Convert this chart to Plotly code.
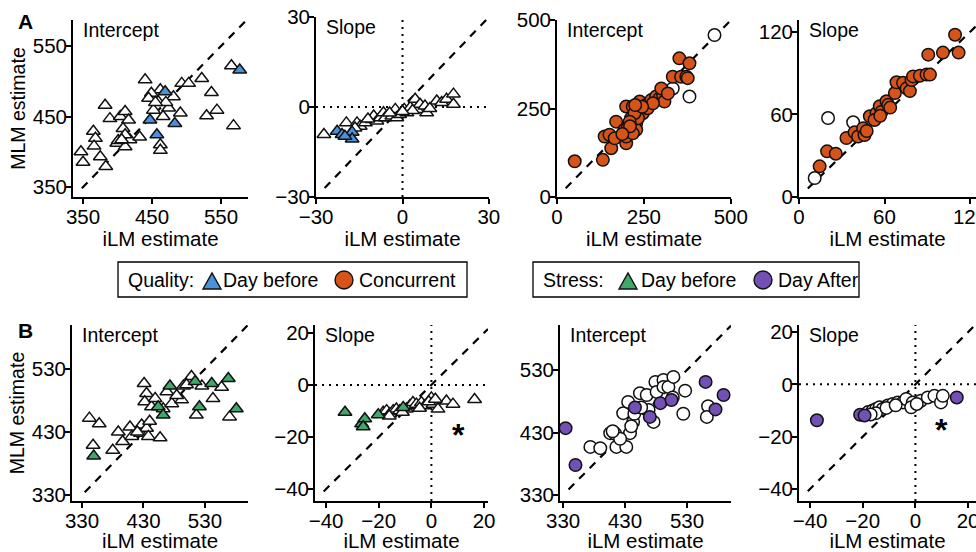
import plotly.graph_objects as go

# ---------------- data ----------------
# Row A, Quality; triangles = "Day before" (blue = significant), circles = "Concurrent" (orange = significant)
a1_ns_x = [347, 350, 365, 368, 366, 375, 383, 382, 389, 404, 399, 411, 401, 418, 432, 411, 416, 408, 411, 406,
           440, 462, 449, 445, 459, 481, 493, 503, 522, 536, 565, 544, 529, 568, 452, 474, 491, 466, 462, 462, 470, 455]
a1_ns_y = [400, 385, 429, 419, 408, 393, 379, 466, 447, 450, 412, 407, 416, 417, 421, 457, 445, 433, 424, 417,
           502, 488, 483, 476, 471, 478, 497, 497, 504, 484, 522, 459, 451, 437, 459, 462, 455, 450, 410, 402, 470, 470]
a1_sig_x = [469, 447, 483, 457, 577]
a1_sig_y = [485, 445, 440, 424, 516]

a2_ns_x = [-27.3, -19.5, -15.8, -14.7, -12.9, -10.6, -10, -8.9, -7.7, -6.6, -6, -3.7, -2.5, -2, -1, 0.6, 1.5, 2.7,
           4.4, 5, 6.1, 7.8, 8.4, 11.9, 13.6, 15.3, 17.7, 17.7, -4.5, 3.5, 9.5, -12, -16.5, 0]
a2_ns_y = [-9.2, -5.3, -5.3, -6.4, -5.3, -4.2, -3, -4.7, -3.6, -1.9, -3.6, -3, -0.8, -3.6, -2.5, -0.8, -1.9, -0.2,
           2.6, -0.8, 0.9, 0.3, -1.9, 2, 1.5, 2.6, 4.3, 0.9, -2, -1.2, -0.5, -4, -7, -1.5]
a2_sig_x = [-22.7, -21, -17.5, -17.5, -20]
a2_sig_y = [-8.1, -9.2, -8.4, -10.7, -9.8]

a3_ns_x = [333, 381, 453]
a3_ns_y = [307, 284, 458]
a3_sig_x = [51, 132, 137, 151, 156, 166, 170, 194, 199, 199, 204, 213, 199, 218, 228, 228, 238, 238, 247, 257,
            271, 285, 295, 305, 300, 309, 319, 333, 352, 357, 372, 376, 381, 233, 261, 276, 223, 209, 218, 210,
            245, 188, 225]
a3_sig_y = [101, 105, 171, 176, 138, 166, 213, 190, 152, 171, 199, 223, 256, 256, 209, 190, 270, 242, 237, 260,
            274, 284, 279, 289, 307, 270, 293, 340, 392, 340, 340, 336, 378, 223, 251, 265, 237, 213, 180, 200,
            255, 178, 260]

a4_ns_x = [11, 20.4, 38]
a4_ns_y = [13.8, 57.4, 54.3]
a4_sig_x = [14.5, 19.7, 25.8, 33.3, 39, 41.5, 45, 46, 49.7, 54.4, 53, 56.7, 58, 61.4, 62.6, 67.3, 68.4, 73,
            75.5, 77.8, 79, 80, 84.8, 89.5, 90.7, 91.9, 101, 109.5, 112, 47.5, 57, 64]
a4_sig_y = [22.3, 33.2, 31.5, 42.9, 47, 44, 50, 45, 58.7, 61, 56, 66, 62, 69.6, 67, 75.6, 83.4, 83,
            79, 77, 85, 87.7, 88.2, 89, 103.5, 89, 105, 118, 105, 48, 59, 65]

# Row B, Stress; triangles = "Day before" (green = significant), circles = "Day After" (purple = significant)
b1_ns_x = [342, 358, 348, 380, 389, 396, 408, 411, 425, 427, 435, 438, 457, 431, 435, 432, 443, 449, 462, 468,
           476, 492, 495, 508, 525, 516, 543, 557, 570, 484, 420, 440, 500]
b1_ns_y = [452, 443, 409, 401, 430, 415, 438, 423, 428, 441, 436, 423, 421, 507, 491, 478, 470, 483, 467, 494,
           475, 481, 503, 518, 503, 457, 483, 501, 454, 488, 430, 447, 505]
b1_sig_x = [349, 454, 462, 473, 514, 521, 541, 568, 581]
b1_sig_y = [392, 470, 457, 503, 510, 470, 507, 515, 467]

b2_ns_x = [-18.3, -17, -15.8, -14.5, -13.3, -12, -9.5, -8.2, -7, -5.7, -3.8, -2.5, 0, 0.6, 2.5, 5.7, 8.2, 16.4,
           -16, -11, -4.5, -1, 1.5]
b2_ns_y = [-10.5, -9.9, -11.1, -9.9, -9.3, -9.9, -9.3, -8, -6.8, -7.4, -6.8, -8, -5, -7.4, -9.3, -6.2, -7.4, -5.6,
           -12, -10.5, -9, -6.5, -5.5]
b2_sig_x = [-32.8, -26.5, -25.3, -25.9, -20.2, -10.7]
b2_sig_y = [-10.5, -14.9, -13, -16.1, -11.5, -8.7]

b3_ns_x = [374, 390, 406, 411, 416, 432, 438, 443, 427, 435, 454, 465, 468, 476, 479, 481, 492, 492, 500, 508,
           507, 527, 524, 564, 562, 414, 422, 445, 456, 440, 410]
b3_ns_y = [407, 405, 429, 431, 407, 407, 429, 447, 461, 479, 493, 490, 466, 447, 511, 495, 514, 503, 503, 519,
           486, 497, 460, 472, 455, 428, 420, 460, 470, 440, 432]
b3_sig_x = [334, 350, 446, 470, 487, 505, 560, 576, 589]
b3_sig_y = [437, 378, 470, 455, 477, 482, 511, 467, 490]

b4_ns_x = [-18, -16.2, -14.9, -13.6, -12.4, -10.5, -8.6, -6.7, -4.8, -3.5, -1, -1.6, 2.1, 4.7, 7.2, 9.7, 10.4,
           -15, -11, -7.5, 0.5, -17]
b4_ns_y = [-10.6, -10, -9.4, -8.75, -9.4, -8.1, -7.5, -6.9, -6.9, -5.6, -6.9, -8.75, -6.25, -5, -4.4, -6.9, -4.4,
           -11, -9, -8, -7.5, -11.5]
b4_sig_x = [-37.4, -21, -19.3, 15.7]
b4_sig_y = [-13.75, -11.6, -11.9, -5]

# tick values
ticks_a_int = [350, 450, 550]
ticks_a_slope = [-30, 0, 30]
ticks_a3 = [0, 250, 500]
ticks_a4 = [0, 60, 120]
ticks_b_int = [330, 430, 530]
ticks_b_slope = [-40, -20, 0, 20]

# legend / labels text
panel_titles = ["Intercept", "Slope", "Intercept", "Slope", "Intercept", "Slope", "Intercept", "Slope"]
legend_quality = ["Quality:", "Day before", "Concurrent"]
legend_stress = ["Stress:", "Day before", "Day After"]

# ---------------- styling ----------------
W, H = 976, 552
FONT = "Liberation Sans, Arial, Helvetica, sans-serif"
FS = 19.5      # panel titles / legend
FS_TICK = 20.5
FS_XT = 20.5
FS_YT = 19.5
BLUE = "#4A90DA"
ORANGE = "#D6541A"
GREEN = "#3FA96A"
PURPLE = "#7350B6"


def px(p):
    return p / W


def py(p):
    return 1 - p / H


panels = [
    dict(data=(a1_ns_x, a1_ns_y, a1_sig_x, a1_sig_y), xd=(73, 248), yd=(20, 197), xr=(335.5, 589), yr=(335.8, 586.9),
         xt=ticks_a_int, yt=ticks_a_int, sym="triangle-up", col=BLUE, zero=False, ytitle=True, star=None),
    dict(data=(a2_ns_x, a2_ns_y, a2_sig_x, a2_sig_y), xd=(316, 489), yd=(17, 197), xr=(-30.05, 30.05), yr=(-30.05, 30.05),
         xt=ticks_a_slope, yt=ticks_a_slope, sym="triangle-up", col=BLUE, zero=True, ytitle=False, star=None),
    dict(data=(a3_ns_x, a3_ns_y, a3_sig_x, a3_sig_y), xd=(557, 731), yd=(20, 197), xr=(0, 500.5), yr=(0, 500.5),
         xt=ticks_a3, yt=ticks_a3, sym="circle", col=ORANGE, zero=False, ytitle=False, star=None),
    dict(data=(a4_ns_x, a4_ns_y, a4_sig_x, a4_sig_y), xd=(799, 976), yd=(20, 197), xr=(0, 124.2), yr=(0, 128.7),
         xt=ticks_a4, yt=ticks_a4, sym="circle", col=ORANGE, zero=False, ytitle=False, star=None),
    dict(data=(b1_ns_x, b1_ns_y, b1_sig_x, b1_sig_y), xd=(72, 248), yd=(325, 501), xr=(313.7, 600), yr=(320.5, 599.8),
         xt=ticks_b_int, yt=ticks_b_int, sym="triangle-up", col=GREEN, zero=False, ytitle=True, star=None),
    dict(data=(b2_ns_x, b2_ns_y, b2_sig_x, b2_sig_y), xd=(315, 488), yd=(325, 501), xr=(-44.2, 21.5), yr=(-44.6, 23),
         xt=ticks_b_slope, yt=ticks_b_slope, sym="triangle-up", col=GREEN, zero=True, ytitle=False, star=(10.2, -18.5)),
    dict(data=(b3_ns_x, b3_ns_y, b3_sig_x, b3_sig_y), xd=(560, 731), yd=(325, 501), xr=(325, 601), yr=(320.4, 602),
         xt=ticks_b_int, yt=ticks_b_int, sym="circle", col=PURPLE, zero=False, ytitle=False, star=None),
    dict(data=(b4_ns_x, b4_ns_y, b4_sig_x, b4_sig_y), xd=(799, 976), yd=(325, 501), xr=(-44.2, 23), yr=(-44.6, 22.7),
         xt=ticks_b_slope, yt=ticks_b_slope, sym="circle", col=PURPLE, zero=True, ytitle=False, star=(9.9, -16.8)),
]

fig = go.Figure()
layout = dict(
    template="none",
    width=W, height=H, margin=dict(l=0, r=0, t=0, b=0, pad=0), autosize=False,
    paper_bgcolor="white", plot_bgcolor="white", showlegend=False,
    font=dict(family=FONT, size=FS, color="black"),
)
annotations = []
shapes = []

for i, p in enumerate(panels):
    n = i + 1
    sx = "" if n == 1 else str(n)
    xa, ya = "x" + sx, "y" + sx
    ns_x, ns_y, sig_x, sig_y = p["data"]
    (x0, x1), (y0, y1) = p["xr"], p["yr"]

    # zero reference lines (dotted) for slope panels
    if p["zero"]:
        fig.add_trace(go.Scatter(x=[x0, x1], y=[0, 0], mode="lines", xaxis=xa, yaxis=ya,
                                 line=dict(color="black", width=2, dash="2px,5px"), hoverinfo="skip"))
        fig.add_trace(go.Scatter(x=[0, 0], y=[y0, y1], mode="lines", xaxis=xa, yaxis=ya,
                                 line=dict(color="black", width=2, dash="2px,5px"), hoverinfo="skip"))
    # identity line (dashed)
    lo = max(x0, y0)
    hi = min(x1, y1)
    start = lo + 0.05 * (hi - lo)
    fig.add_trace(go.Scatter(x=[start, hi], y=[start, hi], mode="lines", xaxis=xa, yaxis=ya,
                             line=dict(color="black", width=2.2, dash="8px,7px"), hoverinfo="skip"))

    msize = 12 if p["sym"] == "triangle-up" else 12.5
    fig.add_trace(go.Scatter(x=ns_x, y=ns_y, mode="markers", xaxis=xa, yaxis=ya,
                             marker=dict(symbol=p["sym"], size=msize, color="white",
                                         line=dict(color="#111111", width=1.5))))
    fig.add_trace(go.Scatter(x=sig_x, y=sig_y, mode="markers", xaxis=xa, yaxis=ya,
                             marker=dict(symbol=p["sym"], size=msize, color=p["col"],
                                         line=dict(color="#111111", width=1.5))))

    common = dict(showline=True, linewidth=1.8, linecolor="black", ticks="outside", ticklen=5,
                  tickwidth=1.5, tickcolor="black", showgrid=False, zeroline=False, automargin=False,
                  ticklabelstandoff=-5, ticklabeloverflow="allow",
                  tickfont=dict(size=FS_TICK, family=FONT, color="black"))
    layout["xaxis" + sx] = dict(domain=[px(p["xd"][0]), px(p["xd"][1])], range=[x0, x1],
                                tickvals=p["xt"], anchor=ya,
                                title=dict(text="iLM estimate", standoff=3,
                                           font=dict(size=FS_XT, family=FONT, color="black")), **common)
    yax = dict(domain=[py(p["yd"][1]), py(p["yd"][0])], range=[y0, y1], tickvals=p["yt"], anchor=xa, **common)
    if p["ytitle"]:
        yax["title"] = dict(text="MLM estimate", standoff=2, font=dict(size=FS_YT, family=FONT, color="black"))
    layout["yaxis" + sx] = yax

    # panel title inside top-left
    annotations.append(dict(text=panel_titles[i], xref="paper", yref="paper",
                            x=px(p["xd"][0] + 8), y=py(min(p["yd"][0], 20 if i < 4 else 325) + 10),
                            xanchor="left", yanchor="middle", showarrow=False,
                            font=dict(size=FS, family=FONT, color="black")))
    if p["star"] is not None:
        annotations.append(dict(text="<b>*</b>", xref=xa, yref=ya, x=p["star"][0], y=p["star"][1],
                                xanchor="center", yanchor="middle", yshift=-2, showarrow=False,
                                font=dict(size=32, family=FONT, color="black")))

# panel letters
annotations.append(dict(text="<b>A</b>", xref="paper", yref="paper", x=px(25.5), y=py(21.5),
                        xanchor="center", yanchor="middle", showarrow=False,
                        font=dict(size=21, family=FONT, color="black")))
annotations.append(dict(text="<b>B</b>", xref="paper", yref="paper", x=px(25), y=py(330),
                        xanchor="center", yanchor="middle", showarrow=False,
                        font=dict(size=21, family=FONT, color="black")))


# legends drawn as boxed keys
def tri_path(cx, cy, w, h):
    return (f"M {px(cx - w / 2)},{py(cy + h / 2)} L {px(cx + w / 2)},{py(cy + h / 2)} "
            f"L {px(cx)},{py(cy - h / 2)} Z")


def legend_box(x0, x1, texts, text_x, tri_x, circ_x, tri_col, circ_col):
    ly0, ly1 = 262, 297
    cy = 280
    shapes.append(dict(type="rect", xref="paper", yref="paper", x0=px(x0), x1=px(x1), y0=py(ly1), y1=py(ly0),
                       line=dict(color="black", width=1.3), fillcolor="white", layer="below"))
    shapes.append(dict(type="path", xref="paper", yref="paper", path=tri_path(tri_x, cy + 1, 18, 16),
                       fillcolor=tri_col, line=dict(color="#111111", width=1.4)))
    shapes.append(dict(type="circle", xref="paper", yref="paper", x0=px(circ_x - 9), x1=px(circ_x + 9),
                       y0=py(cy + 9), y1=py(cy - 9), fillcolor=circ_col, line=dict(color="#111111", width=1.4)))
    for t, tx in zip(texts, text_x):
        annotations.append(dict(text=t, xref="paper", yref="paper", x=px(tx), y=py(cy), xanchor="left",
                                yanchor="middle", showarrow=False, font=dict(size=FS, family=FONT, color="black")))


legend_box(118, 467, legend_quality, [126, 221, 357], 212, 344, BLUE, ORANGE)
legend_box(533, 859, legend_stress, [541, 639, 776], 628, 763, GREEN, PURPLE)

layout["annotations"] = annotations
layout["shapes"] = shapes
fig.update_layout(**layout)
# remove the browser's default 8px body margin so the figure fills the 976x552 window exactly
fig.write_html("out.html", config={"displayModeBar": False, "responsive": False},
               post_script="document.body.style.margin='0px';")
